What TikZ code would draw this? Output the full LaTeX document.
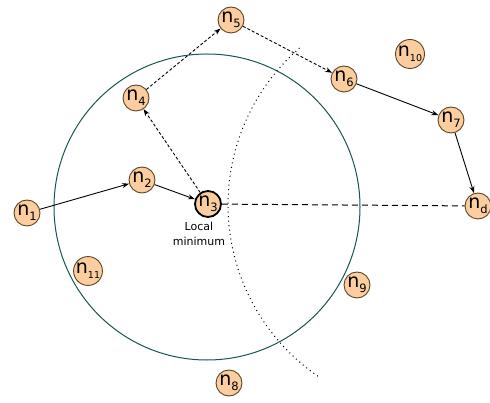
\documentclass[tikz,border=0pt]{standalone}
\usepackage{fontspec}
\setmainfont{DejaVu Sans}
\usetikzlibrary{arrows.meta}
\definecolor{nodefill}{RGB}{252,205,158}
\definecolor{nodeline}{RGB}{90,70,35}
\definecolor{ringcol}{RGB}{25,85,85}
\newcommand{\nn}[1]{n\raisebox{-0.28em}{\fontsize{11.5}{11.5}\selectfont #1}}
\newcommand{\nnsmall}[1]{n\raisebox{-0.28em}{\fontsize{9.5}{9.5}\selectfont #1}}
\tikzset{
  vtx/.style={circle, minimum size=26pt, inner sep=0pt, fill=nodefill, draw=nodeline, line width=0.9pt, font=\fontsize{19}{19}\selectfont},
  vmin/.style={vtx, draw=black, line width=1.8pt},
  solidarr/.style={-{Stealth[length=7pt,width=5pt]}, line width=0.9pt},
  dasharr/.style={-{Stealth[length=7pt,width=5pt]}, line width=0.9pt, dash pattern=on 3pt off 2pt},
  longdash/.style={line width=1pt, dash pattern=on 6pt off 4pt},
  ring/.style={draw=ringcol, line width=1pt},
  frontier/.style={line width=1pt, dash pattern=on 1pt off 3.5pt},
}
\begin{document}
\begin{tikzpicture}[x=1pt,y=-1pt]
\useasboundingbox (0,0) rectangle (490,403);
\draw[ring] (207,207) circle[radius=153];
\draw[frontier] (436,205) ++(-131:208) arc[start angle=-131, end angle=-236, radius=208];
\node[vtx] (n1) at (27,213) {\nn{1}};
\node[vtx] (n2) at (142,180) {\nn{2}};
\node[vmin] (n3) at (208,204) {\nn{3}};
\node[vtx] (n4) at (136,98) {\nn{4}};
\node[vtx] (n5) at (231,20) {\nn{5}};
\node[vtx] (n6) at (344,79) {\nn{6}};
\node[vtx] (n7) at (451,120) {\nn{7}};
\node[vtx] (nd) at (478,206) {\nn{d}};
\node[vtx] (n8) at (229,383) {\nn{8}};
\node[vtx] (n9) at (357,285) {\nn{9}};
\node[vtx] (n10) at (410,54) {\nnsmall{10}};
\node[vtx] (n11) at (88,271) {\nnsmall{11}};
\node[font=\fontsize{11}{15}\selectfont, align=center, anchor=north] (lbl) at (199,219) {Local\\minimum};
\draw[solidarr] (n1) -- (n2);
\draw[solidarr] (n2) -- (n3);
\draw[dasharr] (n3) -- (n4);
\draw[dasharr] (n4) -- (n5);
\draw[dasharr] (n5) -- (n6);
\draw[solidarr] (n6) -- (n7);
\draw[solidarr] (n7) -- (nd);
\draw[longdash] (n3) -- (nd);
\end{tikzpicture}
\end{document}
